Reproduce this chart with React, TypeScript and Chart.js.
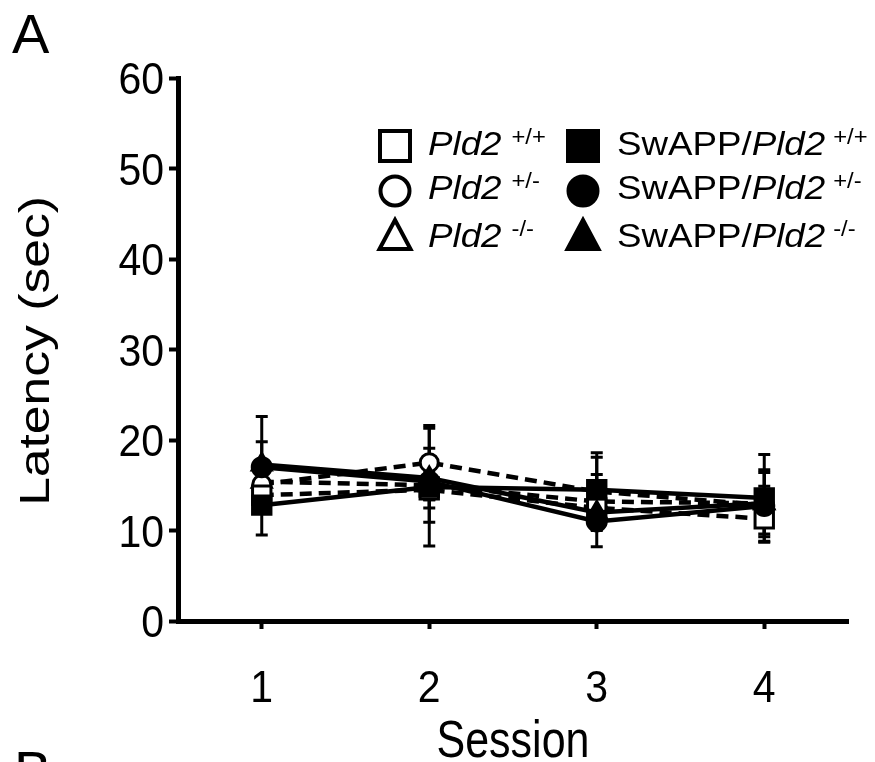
import { useEffect, useRef } from "react";
import { Chart, registerables } from "chart.js";

Chart.register(...registerables);

// ---- Data ----
const sessions = [1, 2, 3, 4];
const xTickValues = [1, 2, 3, 4];
const xTickLabels = ["1", "2", "3", "4"];
const yTickValues = [0, 10, 20, 30, 40, 50, 60];
const yTickLabels = ["0", "10", "20", "30", "40", "50", "60"];
const xTitle = "Session";
const yTitle = "Latency (sec)";

const pld2WT = [13.9, 14.5, 12.5, 11.3];
const pld2WTErr = [1.5, 2.0, 2.0, 2.0];
const pld2Het = [15.1, 17.5, 14.3, 12.8];
const pld2HetErr = [1.5, 4.1, 3.8, 2.1];
const pld2KO = [15.4, 15.0, 13.2, 13.0];
const pld2KOErr = [1.5, 4.1, 3.0, 3.4];
const swWT = [12.8, 14.8, 14.5, 13.6];
const swWTErr = [3.3, 6.5, 4.1, 4.8];
const swHet = [17.0, 15.4, 11.0, 12.7];
const swHetErr = [2.8, 2.0, 2.8, 4.0];
const swKO = [17.3, 15.8, 12.0, 13.0];
const swKOErr = [5.3, 1.5, 2.0, 1.5];

const FONT = "'Liberation Sans', Arial, Helvetica, sans-serif";

const toPts = (vals: number[]) => vals.map((v, i) => ({ x: sessions[i], y: v }));

const errorBarsPlugin = {
  id: "errorBars",
  beforeDatasetsDraw(chart: any) {
    const ctx = chart.ctx;
    const ys = chart.scales.y;
    ctx.save();
    ctx.strokeStyle = "#000";
    ctx.lineWidth = 3;
    chart.data.datasets.forEach((ds: any, i: number) => {
      const meta = chart.getDatasetMeta(i);
      meta.data.forEach((pt: any, j: number) => {
        const v = ds.data[j].y;
        const e = ds.errors[j];
        const x = pt.x;
        const t = ys.getPixelForValue(v + e);
        const b = ys.getPixelForValue(v - e);
        ctx.beginPath();
        ctx.moveTo(x, t);
        ctx.lineTo(x, b);
        ctx.moveTo(x - 6, t);
        ctx.lineTo(x + 6, t);
        ctx.moveTo(x - 6, b);
        ctx.lineTo(x + 6, b);
        ctx.stroke();
      });
    });
    ctx.restore();
  },
};

function drawMarker(ctx: CanvasRenderingContext2D, shape: string, cx: number, cy: number, filled: boolean) {
  ctx.save();
  ctx.lineWidth = 4;
  ctx.strokeStyle = "#000";
  ctx.fillStyle = filled ? "#000" : "#fff";
  ctx.beginPath();
  if (shape === "rect") {
    ctx.rect(cx - 15, cy - 15, 30, 30);
  } else if (shape === "circle") {
    ctx.arc(cx, cy, 14.5, 0, Math.PI * 2);
  } else {
    ctx.moveTo(cx, cy - 15);
    ctx.lineTo(cx + 15.5, cy + 14);
    ctx.lineTo(cx - 15.5, cy + 14);
    ctx.closePath();
  }
  ctx.fill();
  ctx.stroke();
  ctx.restore();
}

function stretchedText(ctx: CanvasRenderingContext2D, text: string, x: number, y: number, sx: number, sy: number, align: CanvasTextAlign, rot = 0) {
  ctx.save();
  ctx.translate(x, y);
  if (rot) ctx.rotate(rot);
  ctx.scale(sx, sy);
  ctx.textAlign = align;
  ctx.textBaseline = "alphabetic";
  ctx.fillText(text, 0, 0);
  ctx.restore();
}

const legendRows = [
  { shape: "rect", sup: "+/+", y: 146, base: 155 },
  { shape: "circle", sup: "+/-", y: 191, base: 199 },
  { shape: "triangle", sup: "-/-", y: 235, base: 247 },
];

const textPlugin = {
  id: "texts",
  afterDraw(chart: any) {
    const ctx: CanvasRenderingContext2D = chart.ctx;
    const xs = chart.scales.x;
    const ys = chart.scales.y;
    ctx.save();
    ctx.fillStyle = "#000";
    // tick labels
    ctx.font = `41px ${FONT}`;
    xTickValues.forEach((v, i) => {
      stretchedText(ctx, xTickLabels[i], xs.getPixelForValue(v), 702, 1, 1.1, "center");
    });
    yTickValues.forEach((v, i) => {
      stretchedText(ctx, yTickLabels[i], 164, ys.getPixelForValue(v) + 16, 1, 1.1, "right");
    });
    // axis titles
    ctx.font = `43px ${FONT}`;
    stretchedText(ctx, xTitle, (chart.chartArea.left + chart.chartArea.right) / 2, 757, 1, 1.2, "center");
    stretchedText(ctx, yTitle, 49, 351, 1.2, 1, "center", -Math.PI / 2);

    // legend
    legendRows.forEach((r) => {
      drawMarker(ctx, r.shape, 395, r.y, false);
      ctx.font = `italic 34px ${FONT}`;
      let w = ctx.measureText("Pld2").width * 1.08;
      stretchedText(ctx, "Pld2", 428, r.base, 1.08, 1, "left");
      ctx.font = `22px ${FONT}`;
      stretchedText(ctx, r.sup, 428 + w + 10, r.base - 11, 1.08, 1, "left");

      drawMarker(ctx, r.shape, 583, r.y, true);
      ctx.font = `34px ${FONT}`;
      const w1 = ctx.measureText("SwAPP/").width * 1.08;
      stretchedText(ctx, "SwAPP/", 617, r.base, 1.08, 1, "left");
      ctx.font = `italic 34px ${FONT}`;
      w = ctx.measureText("Pld2").width * 1.08;
      stretchedText(ctx, "Pld2", 617 + w1, r.base, 1.08, 1, "left");
      ctx.font = `22px ${FONT}`;
      stretchedText(ctx, r.sup, 617 + w1 + w + 8, r.base - 11, 1.08, 1, "left");
    });
    // Panel letters
    ctx.font = `56px ${FONT}`;
    ctx.textAlign = "left";
    ctx.fillText("A", 12, 53);
    ctx.fillText("B", 14, 790);
    ctx.restore();
  },
};

export default function App() {
  const ref = useRef<HTMLCanvasElement | null>(null);

  useEffect(() => {
    document.body.style.margin = "0";
    if (!ref.current) return;
    const mk = (label: string, vals: number[], errs: number[], style: string, filled: boolean, dashed: boolean, radius: number) => ({
      label,
      data: toPts(vals),
      errors: errs,
      borderColor: "#000",
      borderWidth: 4.5,
      borderDash: dashed ? [12, 7] : [],
      pointStyle: style,
      pointRadius: radius,
      pointBorderWidth: 3,
      pointBorderColor: "#000",
      pointBackgroundColor: filled ? "#000" : "#fff",
      tension: 0,
      fill: false,
      order: filled ? 0 : 1,
    });
    const chart = new Chart(ref.current, {
      type: "line",
      data: {
        datasets: [
          mk("Pld2 +/+", pld2WT, pld2WTErr, "rect", false, true, 13),
          mk("Pld2 +/-", pld2Het, pld2HetErr, "circle", false, true, 9),
          mk("Pld2 -/-", pld2KO, pld2KOErr, "triangle", false, true, 11),
          mk("SwAPP/Pld2 +/+", swWT, swWTErr, "rect", true, false, 13),
          mk("SwAPP/Pld2 +/-", swHet, swHetErr, "circle", true, false, 9.5),
          mk("SwAPP/Pld2 -/-", swKO, swKOErr, "triangle", true, false, 11),
        ] as any,
      },
      options: {
        animation: false,
        responsive: true,
        maintainAspectRatio: false,
        layout: { padding: { top: 78, right: 27, left: 0, bottom: 0 } },
        plugins: { legend: { display: false }, tooltip: { enabled: false } },
        scales: {
          x: {
            type: "linear",
            min: 0.5,
            max: 4.5,
            afterBuildTicks: (s: any) => {
              s.ticks = xTickValues.map((v) => ({ value: v }));
            },
            afterFit: (s: any) => {
              s.height = 141;
            },
            border: { display: true, color: "#000", width: 5 },
            grid: { display: true, drawOnChartArea: false, drawTicks: true, tickLength: 8, tickWidth: 4, tickColor: "#000" },
            ticks: { display: false },
            title: { display: false },
          },
          y: {
            type: "linear",
            min: 0,
            max: 60,
            afterBuildTicks: (s: any) => {
              s.ticks = yTickValues.map((v) => ({ value: v }));
            },
            afterFit: (s: any) => {
              s.width = 178;
            },
            border: { display: true, color: "#000", width: 5 },
            grid: { display: true, drawOnChartArea: false, drawTicks: true, tickLength: 9, tickWidth: 4, tickColor: "#000" },
            ticks: { display: false },
            title: { display: false },
          },
        },
      },
      plugins: [errorBarsPlugin, textPlugin],
    });
    return () => chart.destroy();
  }, []);

  return (
    <div style={{ width: 875, height: 762, position: "relative" }}>
      <canvas ref={ref} />
    </div>
  );
}
